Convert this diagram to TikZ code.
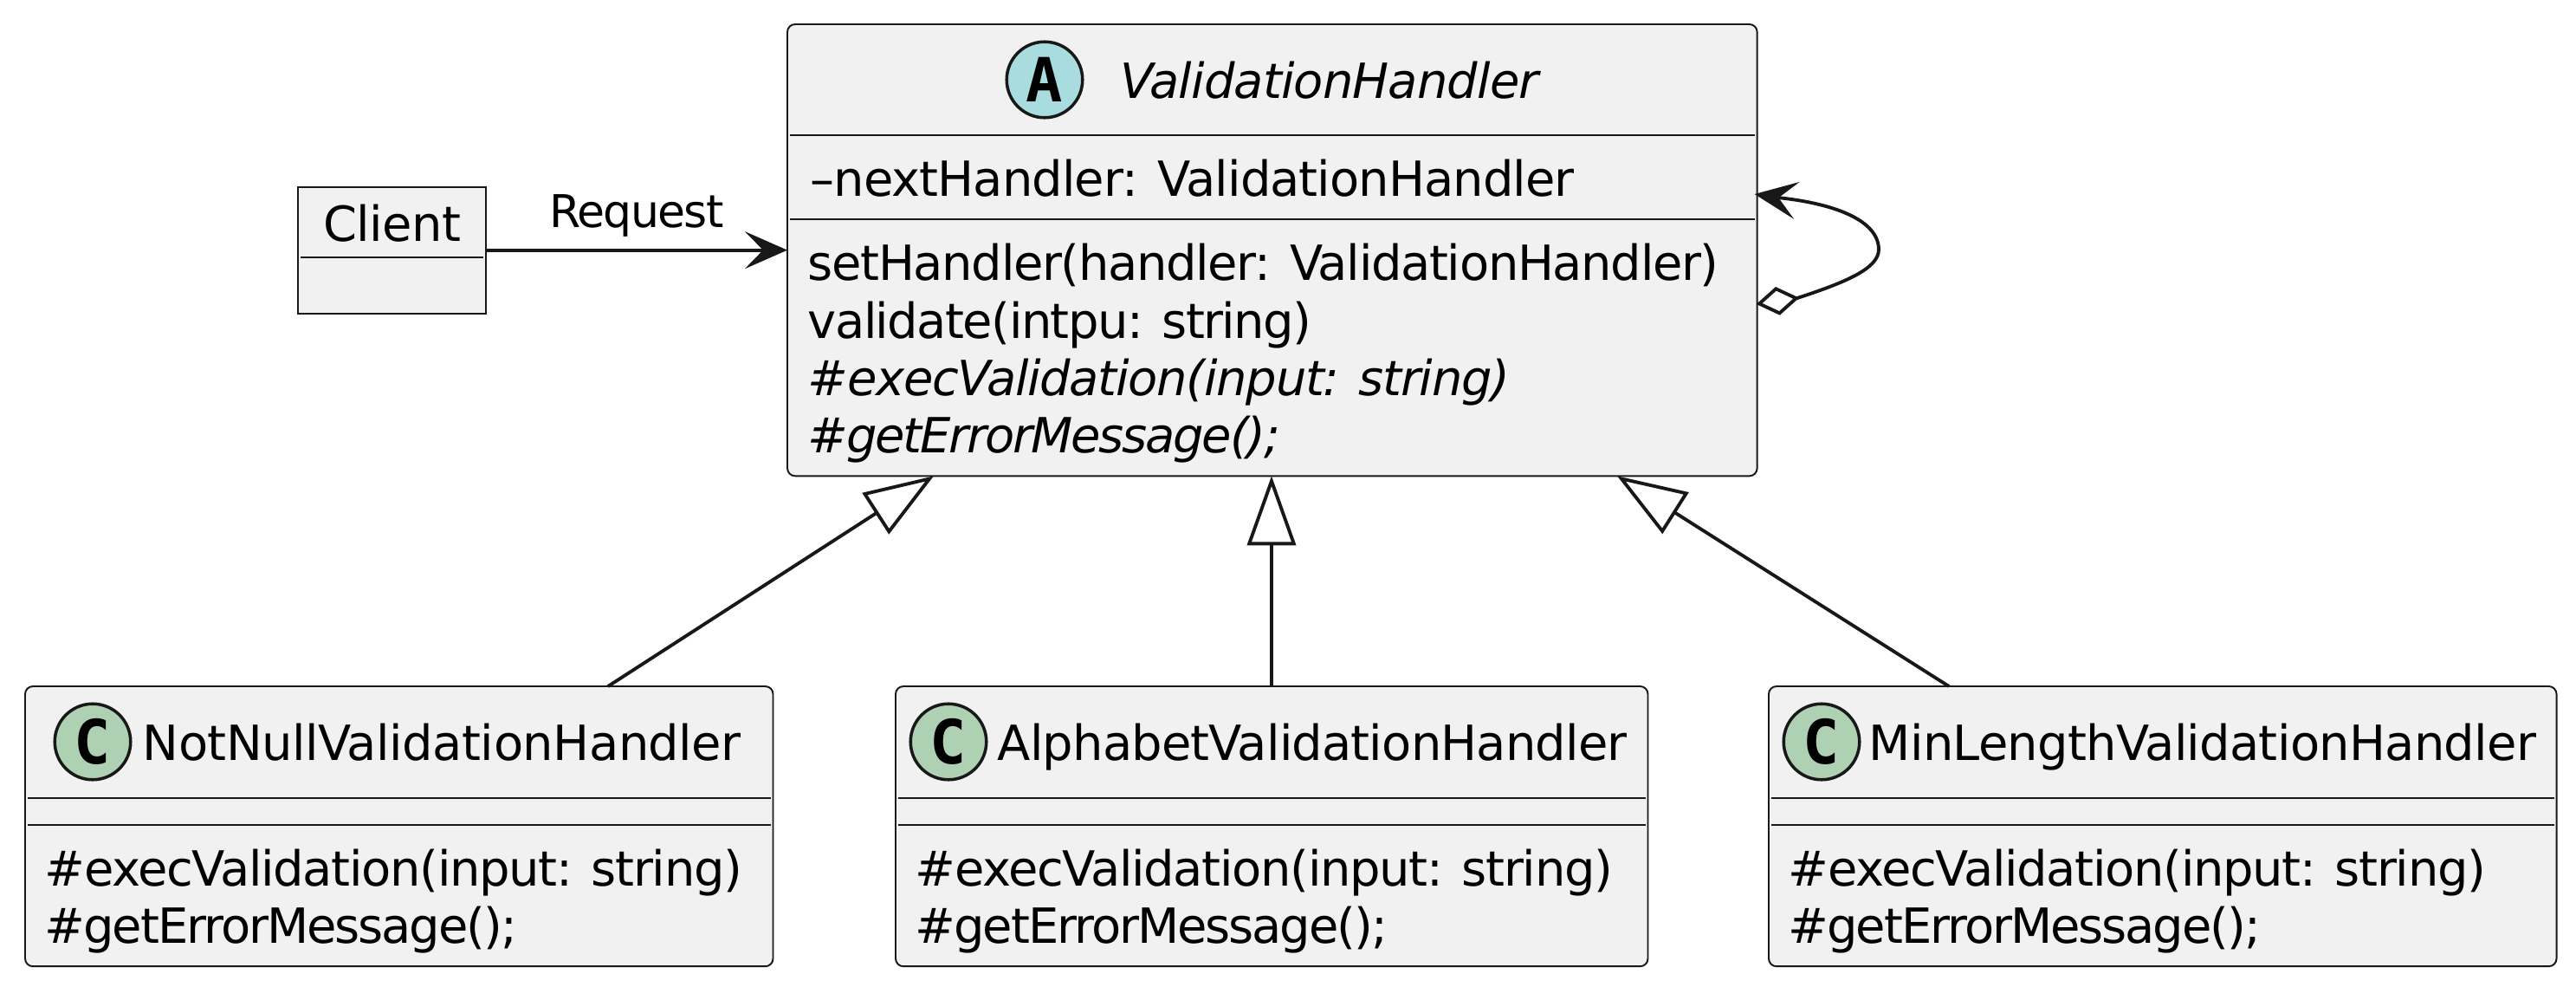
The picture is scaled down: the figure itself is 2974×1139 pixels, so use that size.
\documentclass[tikz,border=0pt]{standalone}
\usepackage{fontspec}
\setmainfont{DejaVu Sans}
\newfontfamily\spotfont{DejaVu Sans Mono}[BoldFont={DejaVu Sans Mono Bold}]
\usetikzlibrary{arrows.meta,calc}
\definecolor{boxfill}{HTML}{F1F1F1}
\definecolor{boxline}{HTML}{181818}
\definecolor{abstractspot}{HTML}{A9DCDF}
\definecolor{classspot}{HTML}{ADD1B2}
\tikzset{
  classbox/.style={draw=boxline, fill=boxfill, line width=0.55pt, rounded corners=0.09cm,
    anchor=north west, inner sep=0pt, outer sep=0pt},
  divider/.style={draw=boxline, line width=0.55pt},
  member/.style={anchor=base west, inner sep=0pt,
    font=\fontsize{15.9}{18.9}\selectfont\addfontfeature{LetterSpace=#1}},
  member/.default=-2,
  spot/.style={circle, draw=boxline, line width=1pt, minimum size=0.875cm, inner sep=0pt,
    font=\spotfont\bfseries\fontsize{20}{20}\selectfont},
  link/.style={draw=boxline, line width=1.1pt},
  flow/.style={link, -{Stealth[length=0.49cm,width=0.43cm,inset=0.21cm]}},
  extends/.style={link, -{Triangle[open,fill=white,length=0.8cm,width=0.56cm]}},
  holds/.style={link, {Diamond[open,fill=white,length=0.5cm,width=0.33cm]}-{Stealth[length=0.49cm,width=0.43cm,inset=0.21cm]}},
}
\begin{document}
\begin{tikzpicture}[x=0.01cm, y=-0.01cm]
  \useasboundingbox (0,0) rectangle (2974,1139);
  % abstract class on top
  \node[classbox, minimum width=11.19cm, minimum height=5.21cm] (handler) at (909,28) {};
  \node[spot, fill=abstractspot] (handlerspot) at ($(handler.north west)+(297,64)$) {A};
  \node[member=-1.6] (handlertitle) at ($(handler.north west)+(384,85)$) {\itshape ValidationHandler};
  \draw[divider] ($(handler.north west)+(3,128)$) -- ($(handler.north east)+(-3,128)$);
  \draw[divider] ($(handler.north west)+(3,225)$) -- ($(handler.north east)+(-3,225)$);
  \node[member=-1.7] (nextfield) at ($(handler.north west)+(26,198)$) {–nextHandler: ValidationHandler};
  \node[member=-2.4] (sethandler) at ($(handler.north west)+(23,295)$) {setHandler(handler: ValidationHandler)};
  \node[member=-2.8] (validate) at ($(handler.north west)+(23,362)$) {validate(intpu: string)};
  \node[member=-2.3] (execabstract) at ($(handler.north west)+(23,428)$) {\itshape \#execValidation(input: string)};
  \node[member=-3.9] (errorabstract) at ($(handler.north west)+(23,494)$) {\itshape \#getErrorMessage();};
  % client
  \node[classbox, rounded corners=0pt, minimum width=2.17cm, minimum height=1.46cm] (client) at (344,216) {};
  \node[member=-1, anchor=base] (clientname) at ($(client.north)+(0,62)$) {Client};
  \draw[divider] ($(client.north west)+(3,81)$) -- ($(client.north east)+(-3,81)$);
  % subclasses
  \foreach \boxname/\boxx/\boxw/\spotx/\titlex/\titlels/\boxtitle in {
      notnull/29/8.63cm/78/135/-0.9/NotNullValidationHandler,
      alphabet/1034/8.68cm/61/117/-1.5/AlphabetValidationHandler,
      minlength/2042/9.09cm/61/115/-1.3/MinLengthValidationHandler}
  {
    \node[classbox, minimum width=\boxw, minimum height=3.23cm] (\boxname) at (\boxx,792) {};
    \node[spot, fill=classspot] (\boxname spot) at ($(\boxname.north west)+(\spotx,64)$) {C};
    \node[member=\titlels] (\boxname title) at ($(\boxname.north west)+(\titlex,85)$) {\boxtitle};
    \draw[divider] ($(\boxname.north west)+(3,129)$) -- ($(\boxname.north east)+(-3,129)$);
    \draw[divider] ($(\boxname.north west)+(3,160)$) -- ($(\boxname.north east)+(-3,160)$);
    \node[member=-2.4] (\boxname exec) at ($(\boxname.north west)+(22,230)$) {\#execValidation(input: string)};
    \node[member=-3.7] (\boxname error) at ($(\boxname.north west)+(22,296)$) {\#getErrorMessage();};
  }
  % relations
  \draw[flow] (client.east |- handler.west) -- node[midway, above=0.13cm, inner sep=0pt, font=\fontsize{14.8}{16}\selectfont\addfontfeature{LetterSpace=-3.2}] (request) {Request} (handler.west);
  \draw[extends] ($(notnull.north west)+(673,0)$) -- ($(handler.south west)+(169,0)$);
  \draw[extends] ($(alphabet.north west)+(434,0)$) -- ($(handler.south west)+(559,0)$);
  \draw[extends] ($(minlength.north west)+(208,0)$) -- ($(handler.south west)+(958,0)$);
  \coordinate (loopstart) at ($(handler.north east)+(-1,323)$);
  \coordinate (loopend) at ($(handler.north east)+(-3,196)$);
  \draw[holds] (loopstart) -- (2075,344) .. controls (2130,326) and (2169,310) .. (2169,288)
    .. controls (2169,255) and (2120,235) .. (2052,228) -- (loopend);
\end{tikzpicture}
\end{document}
